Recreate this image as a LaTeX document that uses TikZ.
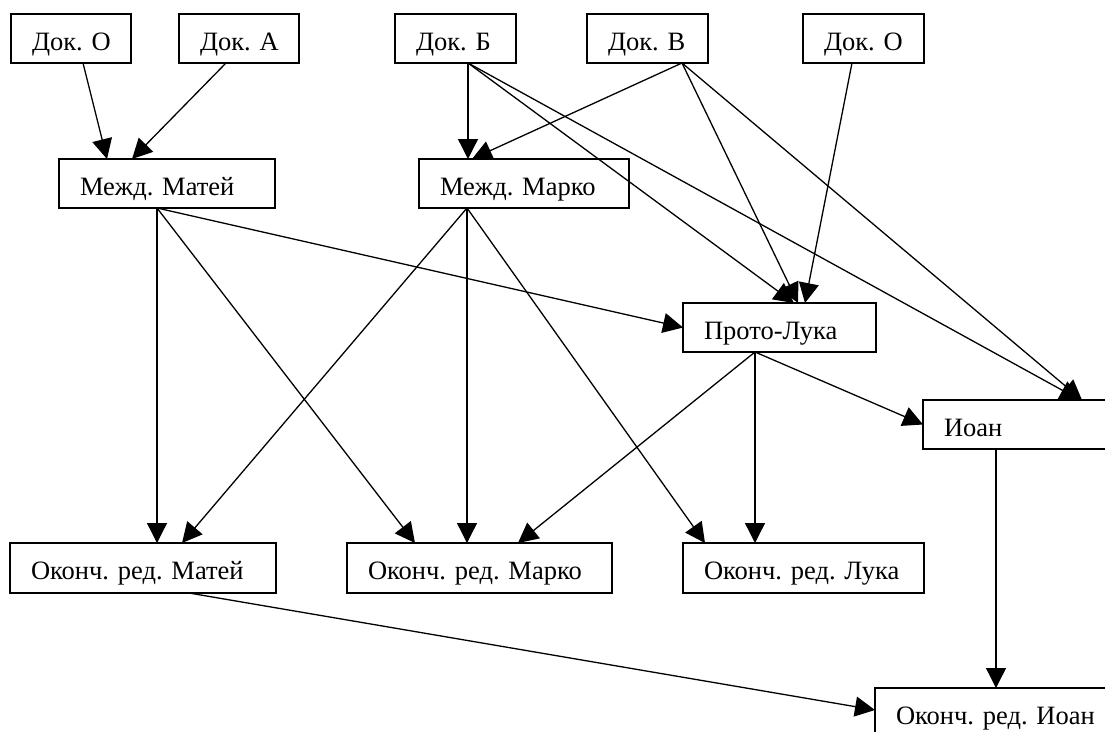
\documentclass[tikz,border=0pt]{standalone}
\usepackage{fontspec}
\setmainfont{Liberation Serif}
\usetikzlibrary{arrows.meta}
\frenchspacing
\begin{document}
\begin{tikzpicture}[x=1pt,y=-1pt,
  box/.style={draw, line width=1.3pt, anchor=north west, outer sep=0pt,
    inner xsep=21pt, inner ysep=0pt, minimum height=49pt,
    text height=23pt, text depth=0pt, align=left,
    font=\fontsize{26.5}{30}\selectfont},
  conn/.style={line width=1.3pt, -{Triangle[length=20pt,width=20pt]}}]
\useasboundingbox (0,0) rectangle (1105,731);
\clip (0,0) rectangle (1105,731);
\fill[white] (0,0) rectangle (1105,731);
% top row
\node[box, text width=78pt] (o1) at (11,14) {\mbox{Док. О}};
\node[box, text width=78pt] (a) at (179,14) {\mbox{Док. А}};
\node[box, text width=79pt] (b) at (395,14) {\mbox{Док. Б}};
\node[box, text width=79pt] (v) at (587,14) {\mbox{Док. В}};
\node[box, text width=79pt] (o2) at (803,14) {\mbox{Док. О}};
% middle
\node[box, text width=174pt] (mmatej) at (59,159) {\mbox{Межд. Матей}};
\node[box, text width=168pt] (mmarko) at (419,159) {\mbox{Межд. Марко}};
\node[box, text width=151pt] (proto) at (683,303) {\mbox{Прото-Лука}};
\node[box, text width=158pt] (ioan) at (923,400) {\mbox{Иоан}};
% final
\node[box, text width=224pt, minimum height=50pt] (omatej) at (10,543) {\mbox{Оконч. ред. Матей}};
\node[box, text width=223pt, minimum height=50pt] (omarko) at (347,543) {\mbox{Оконч. ред. Марко}};
\node[box, text width=199pt, minimum height=50pt] (oluka) at (683,543) {\mbox{Оконч. ред. Лука}};
\node[box, text width=208pt] (oioan) at (875,688) {\mbox{Оконч. ред. Иоан}};
% connectors
\draw[conn] ([xshift=72pt]o1.south west) -- ([xshift=48pt]mmatej.north west);
\draw[conn] ([xshift=47pt]a.south west) -- ([xshift=73pt]mmatej.north west);
\draw[conn] ([xshift=73pt]b.south west) -- ([xshift=49pt]mmarko.north west);
\draw[conn] ([xshift=95pt]v.south west) -- ([xshift=53pt]mmarko.north west);
\draw[conn] ([xshift=73pt]b.south west) -- ([xshift=111pt]proto.north west);
\draw[conn] ([xshift=73pt]b.south west) -- ([xshift=157pt]ioan.north west);
\draw[conn] ([xshift=95pt]v.south west) -- ([xshift=115pt]proto.north west);
\draw[conn] ([xshift=95pt]v.south west) -- ([xshift=159pt]ioan.north west);
\draw[conn] ([xshift=49pt]o2.south west) -- ([xshift=122pt]proto.north west);
\draw[conn] ([xshift=98pt]mmatej.south west) -- ([xshift=147pt]omatej.north west);
\draw[conn] ([xshift=98pt]mmatej.south west) -- (proto.west);
\draw[conn] ([xshift=98pt]mmatej.south west) -- ([xshift=68pt]omarko.north west);
\draw[conn] ([xshift=48pt]mmarko.south west) -- ([xshift=172pt]omatej.north west);
\draw[conn] ([xshift=48pt]mmarko.south west) -- ([xshift=120pt]omarko.north west);
\draw[conn] ([xshift=48pt]mmarko.south west) -- ([xshift=22pt]oluka.north west);
\draw[conn] ([xshift=72pt]proto.south west) -- ([xshift=171pt]omarko.north west);
\draw[conn] ([xshift=72pt]proto.south west) -- ([xshift=72pt]oluka.north west);
\draw[conn] ([xshift=72pt]proto.south west) -- (ioan.west);
\draw[conn] ([xshift=73pt]ioan.south west) -- ([xshift=121pt]oioan.north west);
\draw[conn] ([xshift=179pt]omatej.south west) -- ([yshift=-22pt]oioan.north west);
\end{tikzpicture}
\end{document}
